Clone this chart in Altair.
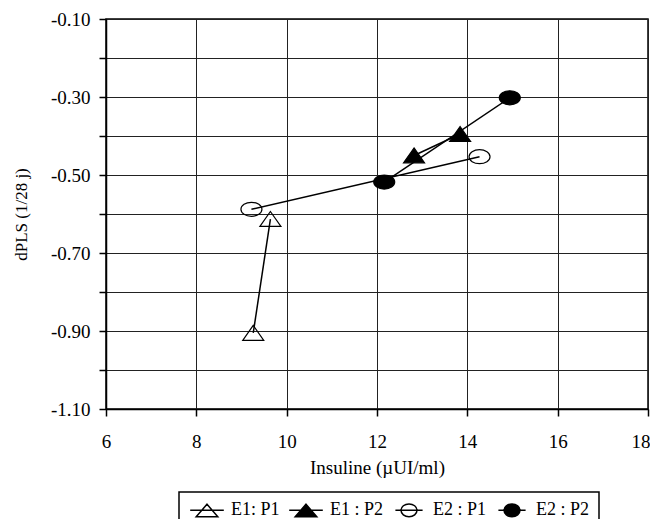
import altair as alt
import pandas as pd

# ---- data ----
series = ["E1: P1", "E1: P1", "E1 : P2", "E1 : P2",
          "E2 : P1", "E2 : P1", "E2 : P2", "E2 : P2"]
insuline = [9.26, 9.64, 12.82, 13.84, 9.22, 14.27, 12.16, 14.94]
dpls = [-0.905, -0.613, -0.450, -0.395, -0.588, -0.453, -0.518, -0.302]

order = ["E1: P1", "E1 : P2", "E2 : P1", "E2 : P2"]
fills = ["transparent", "black", "transparent", "black"]

x_ticks = [6, 8, 10, 12, 14, 16, 18]
y_ticks = [-1.1, -1.0, -0.9, -0.8, -0.7, -0.6, -0.5, -0.4, -0.3, -0.2, -0.1]

FONT = "Liberation Serif"


def ellipse(a, b, cx=0.0, line=None):
    k = 0.5523
    p = ""
    if line:
        p += f"M{cx - line},0H{cx + line}"
    p += (f"M{cx + a},0C{cx + a},{b*k} {cx + a*k},{b} {cx},{b}"
          f"C{cx - a*k},{b} {cx - a},{b*k} {cx - a},0"
          f"C{cx - a},{-b*k} {cx - a*k},{-b} {cx},{-b}"
          f"C{cx + a*k},{-b} {cx + a},{-b*k} {cx + a},0Z")
    return p


TRI = "M0,-0.72L1,0.7L-1,0.7Z"
ELL = ellipse(1, 0.67)
# legend symbols (units of 8 px), drawn right of the symbol slot centre
TRI_L = "M-0.85,0H3.35M1.25,-0.75L2.6,0.82L-0.1,0.82Z"
ELL_L = ellipse(1.0, 0.8, cx=1.25, line=1.7)

df = pd.DataFrame({"series": series, "x": insuline, "y": dpls})

x_enc = alt.X(
    "x:Q",
    scale=alt.Scale(domain=[6, 18], nice=False, zero=False),
    axis=alt.Axis(
        values=x_ticks, title="Insuline (µUI/ml)", labelFlush=False,
        labelAlign={"condition": {"test": "datum.value >= 18", "value": "right"}, "value": "center"},
        labelOffset={"condition": {"test": "datum.value >= 18", "value": 2}, "value": 0},
        labelPadding=16, titlePadding=7, format="d", titleFontSize=19,
    ),
)
y_enc = alt.Y(
    "y:Q",
    scale=alt.Scale(domain=[-1.1, -0.1], nice=False, zero=False),
    axis=alt.Axis(
        values=y_ticks,
        title="dPLS (1/28 j)",
        labelExpr="abs(round(datum.value*10)) % 2 == 1 ? replace(format(datum.value, '.2f'), '\u2212', '-') : ''",
        labelPadding=9,
        titlePadding=20,
    ),
)

lines = alt.Chart(df).mark_line(color="black", strokeWidth=1.5).encode(
    x=x_enc, y=y_enc, detail="series:N"
)

points = alt.Chart(df).mark_point(
    filled=True, stroke="black", strokeWidth=1.2, size=441, opacity=1
).encode(
    x=x_enc,
    y=y_enc,
    shape=alt.Shape("series:N", scale=alt.Scale(domain=order, range=[TRI, TRI, ELL, ELL]), legend=None),
    fill=alt.Fill("series:N", scale=alt.Scale(domain=order, range=fills), legend=None),
)

leg = dict(
    title=None, orient="none", legendX=73, legendY=473, direction="horizontal",
    strokeColor="black", fillColor="white", padding=9,
    symbolSize=256, symbolStrokeWidth=1.5,
    symbolOpacity=1, labelOffset=25, columnPadding=6,
    labelFont=FONT, labelFontSize=18, labelColor="black",
)

legend_layer = alt.Chart(df).mark_point(
    filled=True, stroke="black", strokeWidth=1.5, size=256, opacity=0
).encode(
    x=x_enc,
    y=y_enc,
    shape=alt.Shape("series:N", scale=alt.Scale(domain=order, range=[TRI_L, TRI_L, ELL_L, ELL_L]),
                    legend=alt.Legend(**leg)),
    fill=alt.Fill("series:N", scale=alt.Scale(domain=order, range=fills),
                  legend=alt.Legend(**leg)),
)

chart = (
    alt.layer(lines, points, legend_layer)
    .resolve_scale(shape="independent", fill="independent")
    .properties(
        width=542,
        height=390,
        autosize=alt.AutoSizeParams(type="none"),
        padding={"left": 98, "top": 11, "right": 2, "bottom": 110},
        background="white",
    )
    .configure_view(stroke="black", strokeWidth=1.5)
    .configure_axis(
        labelFont=FONT, labelFontSize=19, labelColor="black",
        titleFont=FONT, titleFontSize=17, titleFontWeight="normal", titleColor="black",
        domainColor="black", domainWidth=1.5,
        tickColor="black", tickWidth=1.5, tickSize=7,
        gridColor="#222222", gridWidth=1, gridOpacity=1,
    )
    .configure_legend(strokeWidth=1.5)
)

chart.save("out.html", embed_options={"renderer": "svg", "actions": False})
